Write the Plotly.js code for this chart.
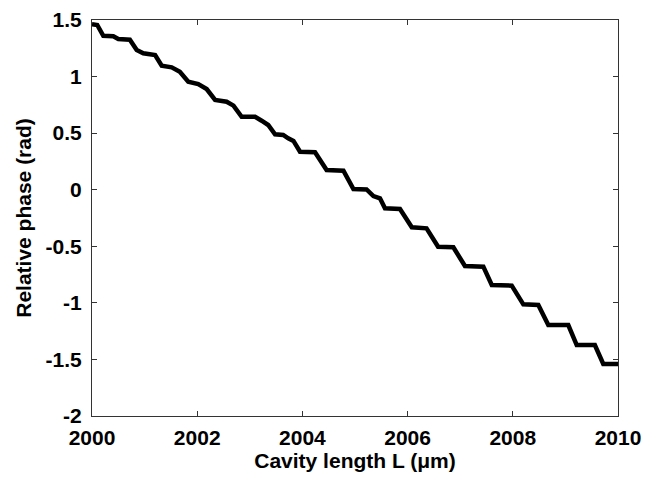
<!DOCTYPE html>
<html>
<head>
<meta charset="utf-8">
<script src="https://cdn.plot.ly/plotly-3.0.1.min.js"></script>
<style>html,body{margin:0;padding:0;background:#fff;}#chart{width:653px;height:477px;}</style>
</head>
<body>
<div id="chart"></div>
<script>
var cavityLength = [2000.00, 2000.025, 2000.10, 2000.215, 2000.405, 2000.50, 2000.72, 2000.85, 2000.975, 2001.20, 2001.325, 2001.515, 2001.67, 2001.83, 2002.02, 2002.18, 2002.34, 2002.56, 2002.69, 2002.845, 2003.10, 2003.225, 2003.35, 2003.48, 2003.635, 2003.73, 2003.83, 2003.955, 2004.24, 2004.46, 2004.78, 2004.97, 2005.22, 2005.35, 2005.475, 2005.57, 2005.855, 2006.08, 2006.36, 2006.58, 2006.87, 2007.09, 2007.44, 2007.60, 2007.98, 2008.20, 2008.485, 2008.675, 2009.055, 2009.215, 2009.56, 2009.72, 2010.0];
var relativePhase = [1.462, 1.462, 1.456, 1.361, 1.356, 1.332, 1.326, 1.235, 1.206, 1.191, 1.096, 1.082, 1.043, 0.955, 0.934, 0.890, 0.793, 0.778, 0.743, 0.645, 0.645, 0.610, 0.572, 0.490, 0.484, 0.454, 0.431, 0.336, 0.331, 0.174, 0.168, 0.006, 0.002, -0.056, -0.076, -0.164, -0.171, -0.332, -0.341, -0.504, -0.509, -0.674, -0.680, -0.842, -0.848, -1.013, -1.019, -1.196, -1.196, -1.373, -1.373, -1.540, -1.540];
var xTickVals = [2000, 2002, 2004, 2006, 2008, 2010];
var xTickText = ["2000", "2002", "2004", "2006", "2008", "2010"];
var yTickVals = [-2, -1.5, -1, -0.5, 0, 0.5, 1, 1.5];
var yTickText = ["-2", "-1.5", "-1", "-0.5", "0", "0.5", "1", "1.5"];

var tickFont = {family: "Liberation Sans, Arial, sans-serif", size: 21, color: "#000", weight: "bold"};
var titleFont = {family: "Liberation Sans, Arial, sans-serif", size: 21, color: "#000", weight: "bold"};

var trace = {
  x: cavityLength, y: relativePhase, type: "scatter", mode: "lines",
  line: {color: "#000", width: 4.5, shape: "linear"}, hoverinfo: "skip"
};
var axisCommon = {
  showgrid: false, zeroline: false, showline: true, linecolor: "#333", linewidth: 1,
  mirror: "ticks", ticks: "inside", ticklen: 5, tickcolor: "#333", tickwidth: 1,
  tickmode: "array", tickfont: tickFont
};
var layout = {
  width: 653, height: 477,
  margin: {l: 92, r: 35, t: 20, b: 61},
  paper_bgcolor: "#fff", plot_bgcolor: "#fff",
  showlegend: false,
  xaxis: Object.assign({}, axisCommon, {
    range: [2000, 2010], tickvals: xTickVals, ticktext: xTickText,
    ticklabelstandoff: 3,
    title: {text: "Cavity length L (\u03bcm)", font: titleFont, standoff: 4}
  }),
  yaxis: Object.assign({}, axisCommon, {
    range: [-2, 1.5], tickvals: yTickVals, ticktext: yTickText,
    ticklabelstandoff: 5,
    title: {text: "Relative phase (rad)", font: titleFont, standoff: 8}
  })
};
Plotly.newPlot("chart", [trace], layout, {displayModeBar: false, staticPlot: true});
</script>
</body>
</html>
